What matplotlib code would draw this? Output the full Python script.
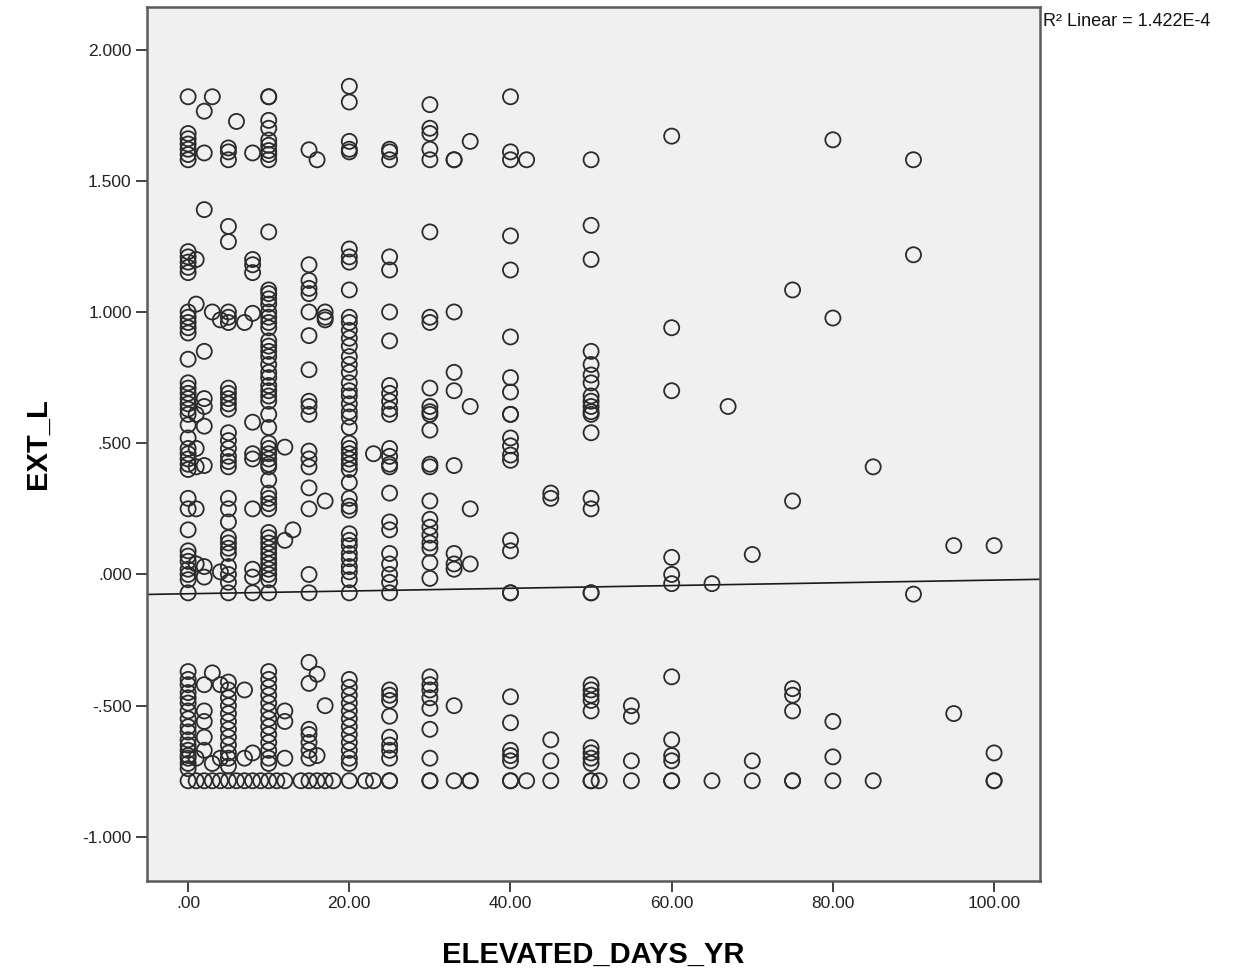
import numpy as np
import matplotlib
matplotlib.use("Agg")
import matplotlib.pyplot as plt

plt.rcParams['font.family'] = ['Liberation Sans', 'DejaVu Sans']

# ELEVATED_DAYS_YR values (one entry per column of points)
day_groups = [0, 1, 2, 3, 4, 5, 6, 7, 8, 9, 10, 11, 12, 13, 14, 15, 16, 17, 18,
              20, 22, 23, 25, 30, 33, 35, 40, 42, 45, 50, 51, 55, 60, 65, 67,
              70, 75, 80, 85, 90, 95, 100]

# EXT_L values, column by column
ext_by_day = [
    [1.82, 1.68, 1.66, 1.64, 1.62, 1.60, 1.58, 1.23, 1.21, 1.19, 1.17, 1.15,
     1.00, 0.98, 0.96, 0.94, 0.92, 0.82, 0.73, 0.71, 0.69, 0.67, 0.65, 0.63,
     0.61, 0.57, 0.52, 0.48, 0.46, 0.44, 0.42, 0.40, 0.29, 0.25, 0.17, 0.09,
     0.07, 0.05, 0.02, 0.00, -0.02, -0.07, -0.37, -0.40, -0.42, -0.45, -0.47,
     -0.49, -0.52, -0.55, -0.58, -0.60, -0.63, -0.65, -0.67, -0.69, -0.70,
     -0.72, -0.74, -0.786],
    [1.20, 1.03, 0.61, 0.48, 0.41, 0.25, 0.04, -0.70, -0.786],
    [1.765, 1.606, 1.39, 0.85, 0.67, 0.64, 0.565, 0.415, 0.03, -0.01, -0.42,
     -0.52, -0.56, -0.62, -0.67, -0.786],
    [1.82, 1.00, -0.375, -0.72, -0.786],
    [0.97, 0.01, -0.42, -0.70, -0.786],
    [1.625, 1.61, 1.58, 1.326, 1.268, 1.00, 0.98, 0.96, 0.71, 0.69, 0.67, 0.65,
     0.63, 0.54, 0.51, 0.48, 0.45, 0.43, 0.41, 0.29, 0.25, 0.20, 0.14, 0.12,
     0.10, 0.08, 0.03, 0.00, -0.03, -0.07, -0.41, -0.44, -0.47, -0.50, -0.53,
     -0.56, -0.59, -0.62, -0.65, -0.68, -0.70, -0.73, -0.786],
    [1.726, -0.786],
    [0.96, -0.44, -0.70, -0.786],
    [1.606, 1.20, 1.18, 1.15, 0.995, 0.58, 0.46, 0.44, 0.25, 0.02, -0.01,
     -0.07, -0.68, -0.786],
    [-0.786],
    [1.82, 1.82, 1.73, 1.70, 1.655, 1.635, 1.615, 1.60, 1.58, 1.305, 1.084,
     1.07, 1.05, 1.03, 1.00, 0.98, 0.96, 0.94, 0.89, 0.87, 0.85, 0.83, 0.80,
     0.77, 0.75, 0.72, 0.70, 0.68, 0.66, 0.61, 0.56, 0.50, 0.48, 0.46, 0.44,
     0.42, 0.41, 0.36, 0.31, 0.29, 0.27, 0.25, 0.16, 0.14, 0.12, 0.10, 0.08,
     0.06, 0.04, 0.02, 0.00, -0.02, -0.07, -0.37, -0.40, -0.43, -0.46, -0.49,
     -0.52, -0.55, -0.58, -0.61, -0.64, -0.67, -0.70, -0.72, -0.786],
    [-0.786],
    [0.485, 0.13, -0.52, -0.56, -0.70, -0.786],
    [0.17],
    [-0.786],
    [1.618, 1.18, 1.12, 1.09, 1.07, 1.00, 0.91, 0.78, 0.66, 0.64, 0.61, 0.47,
     0.44, 0.41, 0.33, 0.25, 0.00, -0.07, -0.335, -0.415, -0.59, -0.61, -0.64,
     -0.67, -0.70, -0.786],
    [1.58, -0.38, -0.69, -0.786],
    [1.00, 0.98, 0.97, 0.28, -0.50, -0.786],
    [-0.786],
    [1.86, 1.80, 1.65, 1.62, 1.61, 1.24, 1.21, 1.19, 1.084, 0.98, 0.96, 0.93,
     0.90, 0.87, 0.83, 0.80, 0.77, 0.73, 0.70, 0.68, 0.65, 0.62, 0.60, 0.56,
     0.50, 0.48, 0.46, 0.44, 0.42, 0.40, 0.35, 0.29, 0.26, 0.245, 0.155, 0.13,
     0.11, 0.08, 0.06, 0.03, 0.01, -0.02, -0.07, -0.40, -0.43, -0.46, -0.49,
     -0.52, -0.55, -0.58, -0.61, -0.64, -0.67, -0.70, -0.72, -0.786],
    [-0.786],
    [0.46, -0.786],
    [1.62, 1.61, 1.58, 1.21, 1.16, 1.00, 0.89, 0.72, 0.69, 0.66, 0.63, 0.61,
     0.48, 0.45, 0.42, 0.41, 0.31, 0.20, 0.17, 0.08, 0.04, 0.00, -0.03, -0.07,
     -0.44, -0.46, -0.48, -0.54, -0.62, -0.65, -0.67, -0.70, -0.786, -0.786],
    [1.79, 1.70, 1.68, 1.62, 1.58, 1.305, 0.98, 0.96, 0.71, 0.64, 0.62, 0.61,
     0.55, 0.42, 0.41, 0.28, 0.21, 0.18, 0.15, 0.12, 0.10, 0.045, -0.015,
     -0.39, -0.42, -0.44, -0.47, -0.51, -0.59, -0.70, -0.786, -0.786],
    [1.58, 1.58, 1.00, 0.77, 0.70, 0.415, 0.08, 0.04, 0.02, -0.50, -0.786],
    [1.65, 0.64, 0.25, 0.04, -0.786, -0.786],
    [1.82, 1.61, 1.58, 1.29, 1.16, 0.905, 0.75, 0.695, 0.61, 0.61, 0.52, 0.49,
     0.455, 0.435, 0.13, 0.09, -0.07, -0.07, -0.466, -0.565, -0.67, -0.69,
     -0.71, -0.786, -0.786],
    [1.58, -0.786],
    [0.31, 0.29, -0.63, -0.71, -0.786],
    [1.58, 1.33, 1.20, 0.85, 0.80, 0.76, 0.73, 0.68, 0.66, 0.64, 0.62, 0.61,
     0.54, 0.29, 0.25, -0.07, -0.07, -0.42, -0.44, -0.46, -0.48, -0.52, -0.66,
     -0.68, -0.70, -0.72, -0.786, -0.786],
    [-0.786],
    [-0.50, -0.54, -0.71, -0.786],
    [1.67, 0.94, 0.70, 0.065, 0.00, -0.035, -0.39, -0.63, -0.69, -0.71,
     -0.786, -0.786],
    [-0.035, -0.786],
    [0.64],
    [0.076, -0.71, -0.786],
    [1.084, 0.28, -0.435, -0.46, -0.52, -0.786, -0.786],
    [1.656, 0.977, -0.56, -0.695, -0.786],
    [0.41, -0.786],
    [1.58, 1.218, -0.075],
    [0.11, -0.53],
    [0.11, -0.68, -0.786, -0.786],
]

# linear fit as printed by SPSS
fit_intercept = -0.0735
fit_slope = 0.00052
r2_text = "R\u00b2 Linear = 1.422E-4"

xticks = [0, 20, 40, 60, 80, 100]
xtick_labels = [".00", "20.00", "40.00", "60.00", "80.00", "100.00"]
yticks = [2.0, 1.5, 1.0, 0.5, 0.0, -0.5, -1.0]
ytick_labels = ["2.000", "1.500", "1.000", ".500", ".000", "-.500", "-1.000"]

days = np.concatenate([[d] * len(v) for d, v in zip(day_groups, ext_by_day)])
ext_l = np.concatenate(ext_by_day)

fig = plt.figure(figsize=(12.47, 9.72), dpi=100)
ax = fig.add_axes([0.1179, 0.0936, 0.7161, 0.8992])
ax.set_facecolor('#f0f0f0')

ax.scatter(days, ext_l, s=118, facecolors='none', edgecolors='#2b2b2b',
           linewidths=1.3, zorder=3)

ax.set_xlim(-5.1, 105.7)
ax.set_ylim(-1.168, 2.162)

xs = np.array(ax.get_xlim())
ax.plot(xs, fit_intercept + fit_slope * xs, color='#1a1a1a', lw=1.2, zorder=2)

ax.set_xticks(xticks)
ax.set_xticklabels(xtick_labels)
ax.set_yticks(yticks)
ax.set_yticklabels(ytick_labels)
ax.tick_params(direction='out', length=8, width=1.3, color='#333333',
               labelsize=12.5, labelcolor='#222222', pad=3)

for side in ['top', 'right', 'bottom', 'left']:
    ax.spines[side].set_color('#5a5a5a')
    ax.spines[side].set_linewidth(1.8)

ax.set_xlabel("ELEVATED_DAYS_YR", fontsize=21, fontweight='bold', va='center')
ax.set_ylabel("EXT_L", fontsize=21, fontweight='bold', va='center')
ax.xaxis.set_label_coords(0.5, -0.0847)
ax.yaxis.set_label_coords(-0.122, 0.5)

fig.text(1043 / 1247, 1 - 22 / 972, r2_text, fontsize=13, va='center',
         ha='left', color='#111111')

fig.savefig("out.png", dpi=100)
